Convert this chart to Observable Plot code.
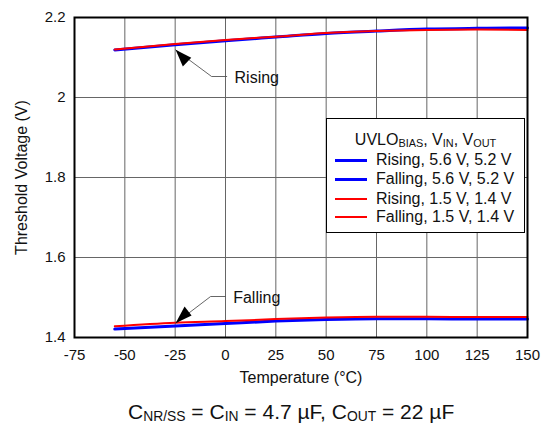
<!DOCTYPE html>
<html>
<head>
<meta charset="utf-8">
<script src="https://cdn.jsdelivr.net/npm/d3@7"></script>
<script src="https://cdn.jsdelivr.net/npm/@observablehq/plot@0.6"></script>
<style>
  body { margin: 0; background: #fff; font-family: "Liberation Sans", Arial, sans-serif; }
  #wrap { position: relative; width: 546px; height: 426px; overflow: hidden; }
  #legend { position: absolute; left: 326px; top: 118px; width: 197px; height: 113px;
            border: 1.5px solid #000; background: #fff; color: #111; }
  #legend .title { position: absolute; left: 0; width: 100%; top: 12px; text-align: center; font-size: 16px; line-height: 18px; }
  #legend .row { position: absolute; left: 0; font-size: 16px; line-height: 18px; }
  #legend .sw { position: absolute; left: 8px; width: 32px; top: 9px; }
  #legend .lab { position: absolute; left: 49px; top: 0; white-space: nowrap; }
  .sub { font-size: 0.68em; vertical-align: -0.2em; line-height: 0; }
  #caption { position: absolute; left: 128px; top: 401px; font-size: 21px; line-height: 21px; color: #111; white-space: nowrap; }
  #caption .sub { font-size: 0.66em; vertical-align: -0.18em; }
</style>
</head>
<body>
<div id="wrap"></div>
<script>
// ---- data ----
const temps = [-55, -25, 0, 25, 50, 75, 100, 125, 150];
const rising56 = [2.119, 2.132, 2.142, 2.151, 2.160, 2.166, 2.171, 2.173, 2.174];
const rising15 = [2.120, 2.134, 2.144, 2.152, 2.161, 2.166, 2.169, 2.170, 2.169];
const falling56 = [1.421, 1.429, 1.435, 1.441, 1.445, 1.447, 1.447, 1.446, 1.446];
const falling15 = [1.428, 1.437, 1.441, 1.446, 1.450, 1.452, 1.452, 1.451, 1.451];
const seriesNames = ["Rising, 5.6 V, 5.2 V", "Falling, 5.6 V, 5.2 V", "Rising, 1.5 V, 1.4 V", "Falling, 1.5 V, 1.4 V"];
const seriesColors = ["#0000ff", "#0000ff", "#ff0000", "#ff0000"];
const seriesWidths = [3, 3, 2, 2];
const xTicks = [-75, -50, -25, 0, 25, 50, 75, 100, 125, 150];
const yTicks = [1.4, 1.6, 1.8, 2, 2.2];
// annotations
const annoLabels = ["Rising", "Falling"];
const annoTextX = [4.5, 3.8];
const annoTextY = [2.05, 1.499];
const annoTipX = [-24.8, -24.8];
const annoTipY = [2.1192, 1.4358];
const annoKneeX = [-6.9, -7.4];
const annoEndX = [0.6, 0.0];
const annoLineY = [2.0525, 1.5025];

const seriesValues = [rising56, falling56, rising15, falling15];
const drawOrder = [1, 3, 0, 2];

const seriesData = seriesValues.map(vals => temps.map((t, i) => ({x: t, y: vals[i]})));

const leaders = annoLabels.map((_, k) => [
  {x: annoEndX[k], y: annoLineY[k]},
  {x: annoKneeX[k], y: annoLineY[k]},
  {x: annoTipX[k], y: annoTipY[k]}
]);
const annoTable = annoLabels.map((t, k) => ({text: t, x: annoTextX[k], y: annoTextY[k], tx: annoTipX[k], ty: annoTipY[k]}));

// arrowhead shapes: tip at the symbol origin
const headUpLeft = {draw(ctx) { ctx.moveTo(0, 0); ctx.lineTo(7.3, 16.7); ctx.lineTo(15.7, 8); ctx.closePath(); }};
const headDownLeft = {draw(ctx) { ctx.moveTo(0, 0); ctx.lineTo(9, -16.7); ctx.lineTo(16, -7.7); ctx.closePath(); }};

const font = "Liberation Sans, Arial, sans-serif";

const plot = Plot.plot({
  width: 546,
  height: 392,
  marginTop: 17,
  marginBottom: 55,
  marginLeft: 74,
  marginRight: 19,
  style: {fontFamily: font, fontSize: "15px", color: "#111", background: "#fff"},
  x: {domain: [-75, 150], axis: null},
  y: {domain: [1.4, 2.2], axis: null},
  marks: [
    Plot.gridX(xTicks, {stroke: "#666", strokeOpacity: 1, strokeWidth: 1}),
    Plot.gridY(yTicks, {stroke: "#666", strokeOpacity: 1, strokeWidth: 1}),
    ...drawOrder.map(k => Plot.line(seriesData[k], {x: "x", y: "y", stroke: seriesColors[k], strokeWidth: seriesWidths[k], curve: "monotone-x"})),
    ...leaders.map(l => Plot.line(l, {x: "x", y: "y", stroke: "#555", strokeWidth: 0.9})),
    Plot.dot([annoTable[0]], {x: "tx", y: "ty", symbol: headUpLeft, r: 5, fill: "#000", stroke: "none"}),
    Plot.dot([annoTable[1]], {x: "tx", y: "ty", symbol: headDownLeft, r: 5, fill: "#000", stroke: "none"}),
    Plot.text(annoTable, {x: "x", y: "y", text: "text", textAnchor: "start", fontSize: 16, fill: "#111"}),
    Plot.frame({stroke: "#000", strokeWidth: 2}),
    Plot.axisX(xTicks, {tickSize: 0, tickPadding: 12, fontSize: 15, label: null, tickFormat: d => String(d)}),
    Plot.axisY(yTicks, {tickSize: 0, tickPadding: 9, fontSize: 15, label: null, tickFormat: d => String(d)}),
    Plot.text(["Temperature (°C)"], {frameAnchor: "bottom", dy: 40, lineAnchor: "middle", fontSize: 16, fill: "#111"}),
    Plot.text(["Threshold Voltage (V)"], {frameAnchor: "left", dx: -52.5, rotate: -90, textAnchor: "middle", lineAnchor: "middle", fontSize: 16, fill: "#111"})
  ]
});

const wrap = document.getElementById("wrap");
wrap.appendChild(plot);

// legend
const legend = document.createElement("div");
legend.id = "legend";
legend.innerHTML = '<div class="title">UVLO<span class="sub">BIAS</span>, V<span class="sub">IN</span>, V<span class="sub">OUT</span></div>';
const rowTops = [32, 51, 71, 89];
seriesNames.forEach((name, k) => {
  const row = document.createElement("div");
  row.className = "row";
  row.style.top = rowTops[k] + "px";
  row.style.width = "100%";
  row.style.height = "18px";
  const sw = document.createElement("div");
  sw.className = "sw";
  sw.style.borderTop = seriesWidths[k] + "px solid " + seriesColors[k];
  sw.style.top = (9 - seriesWidths[k] / 2) + "px";
  const lab = document.createElement("div");
  lab.className = "lab";
  lab.textContent = name;
  row.appendChild(sw);
  row.appendChild(lab);
  legend.appendChild(row);
});
wrap.appendChild(legend);

// caption
const cap = document.createElement("div");
cap.id = "caption";
cap.innerHTML = 'C<span class="sub">NR/SS</span> = C<span class="sub">IN</span> = 4.7 µF, C<span class="sub">OUT</span> = 22 µF';
wrap.appendChild(cap);
</script>
</body>
</html>
